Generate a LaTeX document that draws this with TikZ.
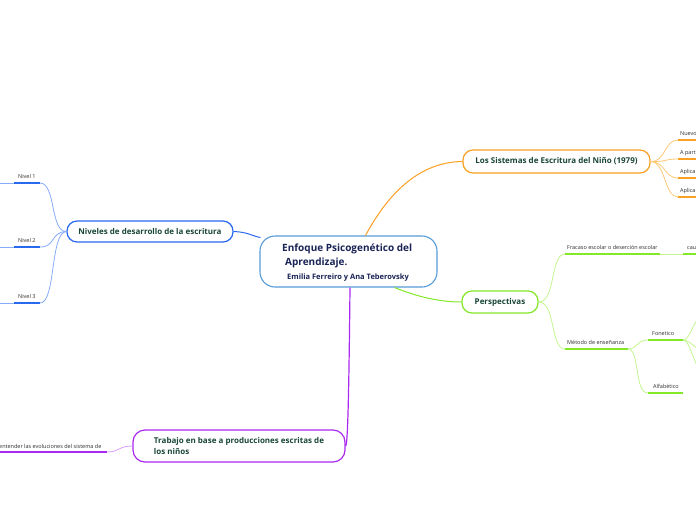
\documentclass[tikz,border=0pt]{standalone}
\usepackage{fontspec}
\setmainfont{Open Sans}
\usetikzlibrary{calc}
\definecolor{orng}{RGB}{250,160,35}
\definecolor{orngl}{RGB}{252,200,120}
\definecolor{grn}{RGB}{130,232,40}
\definecolor{grnl}{RGB}{195,245,145}
\definecolor{blu}{RGB}{40,105,240}
\definecolor{blul}{RGB}{135,172,250}
\definecolor{prp}{RGB}{170,40,240}
\definecolor{prpl}{RGB}{218,155,250}
\definecolor{ctrb}{RGB}{85,155,215}
\definecolor{txtg}{RGB}{25,70,55}
\definecolor{txtn}{RGB}{25,35,85}
\definecolor{txts}{RGB}{45,45,45}
\tikzset{
  topic/.style={draw, line width=1.2pt, fill=white, rounded corners=10pt, inner sep=0pt,
    font=\fontsize{8}{11}\selectfont\bfseries, text=txtg},
  lbl/.style={anchor=base west, inner sep=0pt, font=\fontsize{5.5}{6.5}\selectfont, text=txts},
  uline/.style={line width=2pt},
  br/.style={line width=0.8pt},
}
\begin{document}
\begin{tikzpicture}[x=1pt,y=-1pt]
\useasboundingbox (0,0) rectangle (696,520);

% central node
\node[draw=ctrb, line width=1.1pt, fill=white, rounded corners=15pt, minimum width=177pt, minimum height=51pt, inner sep=0pt] (c) at (348.5,261.5) {};
\node[anchor=base west, inner sep=0pt, text=txtn, font=\fontsize{10}{12}\selectfont\bfseries] (ct1) at (282,251.5) {Enfoque Psicogenético del};
\node[anchor=base west, inner sep=0pt, text=txtn, font=\fontsize{10}{12}\selectfont\bfseries] (ct2) at (285,265) {Aprendizaje.};
\node[anchor=base west, inner sep=0pt, text=txtn, font=\fontsize{7.5}{9}\selectfont\bfseries] (ct3) at (287,279) {Emilia Ferreiro y Ana Teberovsky};

% main topics
\node[topic, draw=orng, minimum width=187pt, minimum height=23pt] (or) at (556.5,161.5) {Los Sistemas de Escritura del Niño (1979)};
\node[topic, draw=blu, minimum width=166pt, minimum height=21pt] (bl) at (150,231.5) {Niveles de desarrollo de la escritura};
\node[topic, draw=grn, minimum width=76pt, minimum height=22pt] (gr) at (500,302) {Perspectivas};
\node[topic, draw=prp, minimum width=212pt, minimum height=32pt, rounded corners=12pt, align=left] (pu) at (239,446) {Trabajo en base a producciones escritas de\\los niños};

% connectors from central
\draw[orng, line width=1pt] ($(c.north)+(17,0)$) .. controls (382,205) and (412,162) .. (or.west);
\draw[grn, line width=1pt] ($(c.south)+(46,0)$) .. controls (418,297) and (440,302) .. (gr.west);
\draw[blu, line width=1pt] (bl.east) .. controls (248,232) and (252,236) .. ($(c.west)+(1,-24)$);
\draw[prp, line width=1.2pt] ($(c.south)+(1.5,0)$) .. controls (349,380) and (348,446) .. (pu.east);

% orange children
\foreach \i/\y/\t in {1/140/Nuevo,2/159/A part,3/178/Aplica,4/197/Aplica}{
  \coordinate (oa\i) at (678,\y);
  \coordinate (ob\i) at (700,\y);
  \draw[orngl, br] (or.east) .. controls (666,162) and (664,\y) .. (oa\i);
  \draw[orng, uline] (oa\i) -- (ob\i);
  \node[lbl] (ot\i) at (680,\y-4.5) {\t};
}

% blue children
\foreach \i/\y in {1/183,2/247,3/303}{
  \coordinate (bz\i) at (0,\y);
  \coordinate (ba\i) at (14,\y);
  \coordinate (bb\i) at (40,\y);
  \draw[blul, br] (bl.west) .. controls (50,232) and (56,\y) .. (bb\i);
  \draw[blul, br] (bz\i) -- (ba\i);
  \draw[blu, uline] (ba\i) -- (bb\i);
  \node[lbl] (bt\i) at (18,\y-4.5) {Nivel \i};
}

% purple child
\coordinate (pa) at (0,452);
\coordinate (pb) at (107,452);
\draw[prpl, br] (pu.west) .. controls (118,446) and (120,452) .. (pb);
\draw[prp, uline] (pa) -- (pb);
\node[lbl] (pt) at (-1,448.5) {entender las evoluciones del sistema de};

% green children
\coordinate (fa) at (565,254);
\coordinate (fb) at (660,254);
\coordinate (ka) at (683,254);
\coordinate (kb) at (700,254);
\draw[grnl, br] (gr.east) .. controls (556,302) and (550,254) .. (fa);
\draw[grn, uline] (fa) -- (fb);
\draw[grnl, br] (fb) -- (ka);
\draw[grn, uline] (ka) -- (kb);
\node[lbl] (ft) at (567,249.5) {Fracaso escolar o deserción escolar};
\node[lbl] (kt) at (687,249.5) {cau};

\coordinate (ma) at (565,349);
\coordinate (mb) at (628,349);
\draw[grnl, br] (gr.east) .. controls (556,302) and (550,349) .. (ma);
\draw[grn, uline] (ma) -- (mb);
\node[lbl] (mt) at (567,344.5) {Método de enseñanza};

\coordinate (fo1) at (648,340);
\coordinate (fo2) at (683,340);
\coordinate (al1) at (648,393);
\coordinate (al2) at (683,393);
\draw[grnl, br] (mb) .. controls (638,349) and (636,340) .. (fo1);
\draw[grnl, br] (mb) .. controls (640,349) and (634,393) .. (al1);
\draw[grn, uline] (fo1) -- (fo2);
\draw[grn, uline] (al1) -- (al2);
\node[lbl] (fot) at (652,335.5) {Fonetico};
\node[lbl] (alt) at (653,388.5) {Alfabético};

\foreach \i/\y in {1/310,2/352,3/378}{
  \coordinate (fe\i) at (712,\y);
  \draw[grnl, br] (fo2) .. controls (692,340) and (694,\y) .. (fe\i);
}
\end{tikzpicture}
\end{document}
